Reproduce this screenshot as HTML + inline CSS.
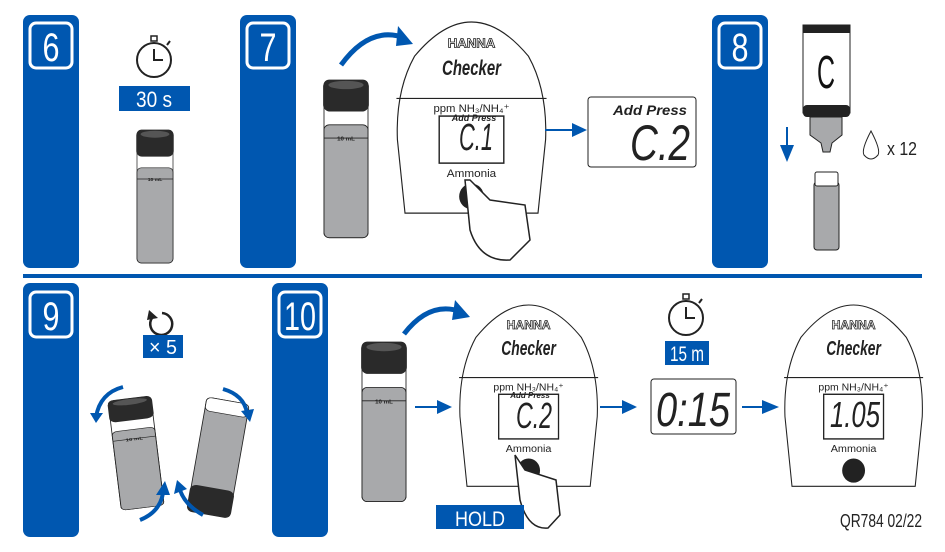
<!DOCTYPE html>
<html><head><style>
html,body{margin:0;padding:0;background:#fff}
svg{display:block}
text{font-family:"Liberation Sans",sans-serif}
</style></head><body>
<svg width="945" height="552" viewBox="0 0 945 552" xmlns="http://www.w3.org/2000/svg">
<defs>
<g id="dev">
<path d="M0,195 L-8,120 Q-10,70 10,35 Q40,0 70,0 Q100,0 130,35 Q150,70 148,120 L140,195 Z" fill="#fff" stroke="#222" stroke-width="1.2"/>
<line x1="-9" y1="78" x2="149" y2="78" stroke="#222" stroke-width="1.2"/>
<text x="70" y="26" font-size="13" text-anchor="middle" font-weight="bold" fill="#fff" stroke="#222" stroke-width="0.8" textLength="50" lengthAdjust="spacingAndGlyphs">HANNA</text>
<text x="70" y="54" font-size="22" text-anchor="middle" font-style="italic" font-weight="bold" font-family="Liberation Serif,serif" fill="#222" textLength="62" lengthAdjust="spacingAndGlyphs">Checker</text>
<text x="70" y="92" font-size="11" text-anchor="middle" fill="#222" textLength="80" lengthAdjust="spacingAndGlyphs">ppm NH₃/NH₄⁺</text>
<rect x="36" y="96" width="68" height="48" fill="#fff" stroke="#222" stroke-width="1.5"/>
<text x="70" y="158" font-size="11" text-anchor="middle" fill="#222" textLength="52" lengthAdjust="spacingAndGlyphs">Ammonia</text>
<circle cx="70" cy="178" r="13" fill="#222"/>
</g>
<g id="vial">
<rect x="0" y="0" width="50" height="190" rx="6" fill="#fff" stroke="#222"/>
<rect x="0" y="54" width="50" height="136" rx="6" fill="#a8a9ab" stroke="#222"/>
<rect x="-1" y="0" width="52" height="38" rx="8" fill="#2a2a2a"/>
<ellipse cx="25" cy="6" rx="20" ry="5" fill="#555"/>
<line x1="0" y1="70" x2="50" y2="70" stroke="#222"/>
<text x="25" y="73" font-size="7" text-anchor="middle" fill="#222" font-weight="bold">10 mL</text>
</g>
<g id="watch">
<circle cx="0" cy="0" r="17" fill="#fff" stroke="#222" stroke-width="2"/>
<rect x="-3" y="-24" width="6" height="5" fill="#fff" stroke="#222" stroke-width="1.5"/>
<path d="M0,-11 V0 H9" fill="none" stroke="#222" stroke-width="2"/>
<line x1="13" y1="-15" x2="16" y2="-19" stroke="#222" stroke-width="2"/>
</g>
</defs>
<g fill="#0057b0">
<rect x="23" y="15" width="56" height="253" rx="7"/>
<rect x="240" y="15" width="56" height="253" rx="7"/>
<rect x="712" y="15" width="56" height="253" rx="7"/>
<rect x="23" y="283" width="56" height="254" rx="7"/>
<rect x="272" y="283" width="56" height="254" rx="7"/>
<rect x="23" y="274" width="899" height="4"/>
</g>
<g fill="none" stroke="#fff" stroke-width="3">
<rect x="30" y="23" width="42" height="45" rx="6"/>
<rect x="247" y="23" width="42" height="45" rx="6"/>
<rect x="719" y="23" width="42" height="45" rx="6"/>
<rect x="30" y="292" width="42" height="45" rx="6"/>
<rect x="279" y="292" width="42" height="45" rx="6"/>
</g>
<g fill="#fff" font-size="40" text-anchor="middle">
<text x="51" y="61" textLength="17" lengthAdjust="spacingAndGlyphs">6</text>
<text x="268" y="61" textLength="17" lengthAdjust="spacingAndGlyphs">7</text>
<text x="740" y="61" textLength="17" lengthAdjust="spacingAndGlyphs">8</text>
<text x="51" y="330" textLength="17" lengthAdjust="spacingAndGlyphs">9</text>
<text x="300" y="330" textLength="32" lengthAdjust="spacingAndGlyphs">10</text>
</g>
<!-- step 6 -->
<use href="#watch" x="154" y="60"/>
<rect x="119" y="86" width="71" height="25" fill="#0057b0"/>
<text x="154" y="107" font-size="22" fill="#fff" text-anchor="middle" textLength="36" lengthAdjust="spacingAndGlyphs">30 s</text>
<use href="#vial" transform="translate(137,130) scale(0.72,0.7)"/>
<!-- step 7 -->
<use href="#vial" transform="translate(324,80) scale(0.88,0.83)"/>
<path d="M341,65 Q370,25 405,38" fill="none" stroke="#0057b0" stroke-width="5"/>
<polygon points="398,26 413,44 396,46" fill="#0057b0"/>
<use href="#dev" transform="translate(405,22) scale(0.95,0.98)"/>
<text x="476" y="150" font-size="38" text-anchor="middle" font-style="italic" fill="#222" textLength="34" lengthAdjust="spacingAndGlyphs">C.1</text>
<text x="474" y="121" font-size="9" font-weight="bold" font-style="italic" text-anchor="middle" fill="#222">Add Press</text>
<path d="M465,180 L470,230 Q480,262 510,260 L530,240 L525,205 L490,200 L470,180 Z" fill="#fff" stroke="#222" stroke-width="1.5"/>
<line x1="545" y1="130" x2="575" y2="130" stroke="#0057b0" stroke-width="2"/>
<polygon points="572,123 587,130 572,137" fill="#0057b0"/>
<rect x="588" y="97" width="108" height="70" rx="3" fill="#fff" stroke="#222"/>
<text x="650" y="115" font-size="14" font-weight="bold" font-style="italic" text-anchor="middle" fill="#222" textLength="74" lengthAdjust="spacingAndGlyphs">Add Press</text>
<text x="660" y="160" font-size="50" font-style="italic" text-anchor="middle" fill="#222" textLength="60" lengthAdjust="spacingAndGlyphs">C.2</text>
<!-- step 8 -->
<rect x="803" y="25" width="47" height="88" fill="#fff" stroke="#222"/>
<rect x="803" y="25" width="47" height="8" fill="#222"/>
<rect x="803" y="105" width="47" height="12" rx="4" fill="#222"/>
<text x="826" y="88" font-size="46" text-anchor="middle" fill="#111" textLength="18" lengthAdjust="spacingAndGlyphs">C</text>
<path d="M810,117 L842,117 L842,135 L832,143 L830,152 L823,152 L821,143 L810,135 Z" fill="#a8a9ab" stroke="#222"/>
<line x1="787" y1="127" x2="787" y2="148" stroke="#0057b0" stroke-width="2"/>
<polygon points="780,145 794,145 787,162" fill="#0057b0"/>
<path d="M871,131 Q861,150 864,155 Q871,163 878,155 Q881,150 871,131 Z" fill="#fff" stroke="#222"/>
<text x="887" y="155" font-size="18" fill="#222" textLength="30" lengthAdjust="spacingAndGlyphs">x 12</text>
<rect x="814" y="182" width="25" height="68" rx="3" fill="#a8a9ab" stroke="#222"/>
<rect x="815" y="172" width="23" height="14" rx="2" fill="#fff" stroke="#222"/>
<!-- step 9 -->
<path d="M152,318 A11,11 0 1 0 162,313" fill="none" stroke="#222" stroke-width="2.5"/>
<polygon points="149,310 158,318 147,320" fill="#222"/>
<rect x="143" y="335" width="40" height="23" fill="#0057b0"/>
<text x="163" y="354" font-size="20" fill="#fff" text-anchor="middle" textLength="28" lengthAdjust="spacingAndGlyphs">× 5</text>
<use href="#vial" transform="translate(108,401) rotate(-7) scale(0.86,0.58)"/>
<g transform="translate(207,397) rotate(10) scale(0.86,0.68)">
<rect x="0" y="0" width="50" height="170" rx="6" fill="#a8a9ab" stroke="#222"/>
<rect x="0" y="0" width="50" height="20" rx="6" fill="#fff" stroke="#222"/>
<rect x="-1" y="130" width="52" height="40" rx="8" fill="#2a2a2a"/>
</g>
<g fill="none" stroke="#0057b0" stroke-width="4">
<path d="M123,387 Q100,393 96,417"/><path d="M140,520 Q160,512 163,493"/>
<path d="M223,389 Q244,395 247,413"/><path d="M203,515 Q185,505 180,490"/>
</g>
<g fill="#0057b0">
<polygon points="90,413 103,413 96,423"/><polygon points="156,495 170,495 165,481"/>
<polygon points="241,411 254,409 250,422"/><polygon points="174,494 187,489 177,480"/>
</g>
<!-- step 10 -->
<use href="#vial" transform="translate(362,342) scale(0.88,0.84)"/>
<path d="M404,334 Q430,300 462,312" fill="none" stroke="#0057b0" stroke-width="5"/>
<polygon points="455,300 470,317 452,320" fill="#0057b0"/>
<line x1="415" y1="407" x2="440" y2="407" stroke="#0057b0" stroke-width="2"/>
<polygon points="437,400 452,407 437,414" fill="#0057b0"/>
<use href="#dev" transform="translate(467,305) scale(0.88,0.93)"/>
<text x="534" y="428" font-size="36" text-anchor="middle" font-style="italic" fill="#222" textLength="36" lengthAdjust="spacingAndGlyphs">C.2</text>
<text x="530" y="398" font-size="8" font-weight="bold" font-style="italic" text-anchor="middle" fill="#222">Add Press</text>
<path d="M515,455 L520,500 Q528,530 548,528 L560,515 L556,480 L525,470 Z" fill="#fff" stroke="#222" stroke-width="1.5"/>
<rect x="436" y="505" width="88" height="24" fill="#0057b0"/>
<text x="480" y="526" font-size="21" fill="#fff" text-anchor="middle" textLength="50" lengthAdjust="spacingAndGlyphs">HOLD</text>
<use href="#watch" x="686" y="318"/>
<rect x="665" y="341" width="44" height="24" fill="#0057b0"/>
<text x="687" y="361" font-size="21" fill="#fff" text-anchor="middle" textLength="34" lengthAdjust="spacingAndGlyphs">15 m</text>
<line x1="600" y1="407" x2="625" y2="407" stroke="#0057b0" stroke-width="2"/>
<polygon points="622,400 637,407 622,414" fill="#0057b0"/>
<rect x="651" y="379" width="85" height="55" rx="3" fill="#fff" stroke="#222"/>
<text x="693" y="426" font-size="48" font-style="italic" text-anchor="middle" fill="#222" textLength="74" lengthAdjust="spacingAndGlyphs">0:15</text>
<line x1="742" y1="407" x2="765" y2="407" stroke="#0057b0" stroke-width="2"/>
<polygon points="762,400 779,407 762,414" fill="#0057b0"/>
<use href="#dev" transform="translate(792,305) scale(0.88,0.93)"/>
<text x="855" y="427" font-size="36" font-style="italic" text-anchor="middle" fill="#222" textLength="50" lengthAdjust="spacingAndGlyphs">1.05</text>
<text x="922" y="527" font-size="18" text-anchor="end" fill="#222" textLength="82" lengthAdjust="spacingAndGlyphs">QR784  02/22</text>
</svg>
</body></html>
